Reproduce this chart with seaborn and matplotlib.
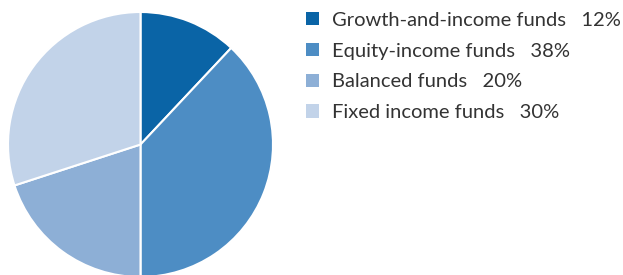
import matplotlib
matplotlib.use("Agg")
import matplotlib.pyplot as plt
import seaborn as sns
from matplotlib.patches import Patch

sns.set_theme(style="white")
plt.rcParams['font.family'] = ['Lato', 'DejaVu Sans']

categories = ["Growth-and-income funds", "Equity-income funds", "Balanced funds", "Fixed income funds"]
values = [12, 38, 20, 30]
pct_labels = ["12%", "38%", "20%", "30%"]
colors = ["#0A64A6", "#4D8DC4", "#8DAFD6", "#C2D3E9"]

W, H = 623, 275
fig = plt.figure(figsize=(W / 100, H / 100), dpi=100)
fig.patch.set_facecolor("white")

cx, cy, r = 140.5, 144.5, 132.5
ax = fig.add_axes([(cx - r) / W, (H - cy - r) / H, 2 * r / W, 2 * r / H])
ax.pie(values, colors=colors, startangle=90, counterclock=False,
       wedgeprops=dict(edgecolor="white", linewidth=1.5), radius=1)
ax.set_xlim(-1, 1)
ax.set_ylim(-1, 1)
ax.set_aspect("equal")
ax.axis("off")

handles = [Patch(facecolor=c, edgecolor="none") for c in colors]
labels = [f"{c}   {p}" for c, p in zip(categories, pct_labels)]
leg = fig.legend(handles, labels, loc="upper left", bbox_to_anchor=(302 / W, 1 - 8 / H),
                 frameon=False, fontsize=14.5, handlelength=0.62, handleheight=0.62,
                 handletextpad=0.65, labelspacing=0.68, borderaxespad=0, borderpad=0.2)
for t in leg.get_texts():
    t.set_color("#333333")

fig.savefig("out.png", dpi=100, facecolor="white")
